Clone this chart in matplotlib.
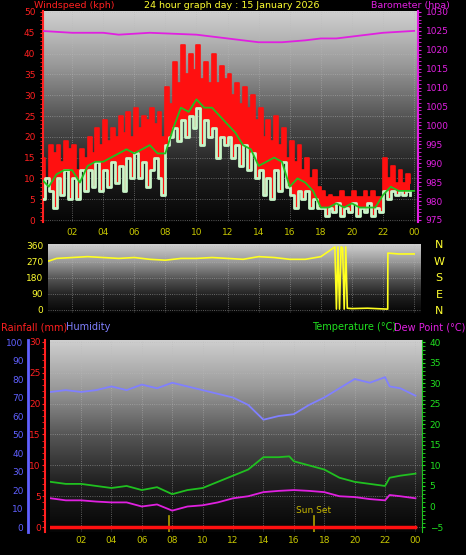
import numpy as np
import matplotlib
matplotlib.use("Agg")
import matplotlib.pyplot as plt
from matplotlib.colors import LinearSegmentedColormap

W, H = 466, 555
fig = plt.figure(figsize=(W/100, H/100), dpi=100, facecolor="black")

def rect(l, r, t, b):
    return [l/W, 1-b/H, (r-l)/W, (b-t)/H]

# ---------------- data ----------------
t15 = np.arange(96) * 0.25
gust = [15,10,18,16, 18,14,19,17, 18,12,17,15, 20,16,22,18, 24,19,22,20, 25,21,26,20,
        27,22,25,24, 27,23,26,20, 32,28,38,33, 42,35,40,36, 42,34,38,33, 40,33,37,34,
        35,30,33,28, 32,27,30,24, 27,20,24,19, 25,18,22,15, 19,14,18,12, 15,10,12,8,
        7,5.5,6,5.5, 5.5,7,5.5,5.5, 7,5.5,5.5,7, 5.5,7,5.5,5.5, 15,10,13,9, 12,9,11,9]
avg = [5,10,7,3, 10,6,12,5, 10,5,12,7, 12,8,14,7, 12,8,14,9, 13,7,15,10,
       16,10,14,8, 12,15,10,6, 18,20,22,19, 24,20,25,22, 27,18,24,20, 22,15,20,18,
       20,15,18,13, 18,12,16,10, 12,6,10,5, 12,7,14,8, 6,3,7,5, 7,3,5,3,
       3,1,3,2, 4,1,3,2, 4,1,3,2, 4,1,3,2, 7,5,7,6, 7,6,7,6]
t30 = np.arange(49) * 0.5
mean_wind = [10,8,11,12,12,9,13,14,14,15,16,17,16,17,18,16,16,22,27,26,29,27,27,25,23,21,
             18,17,13,14,15,14,8,10,9,7,3,3,4,3,4,3,3,3,6,8,7,7,7]
baro_t = [0,2,4,5,7,10,11,12,13,14,15.5,17,18,19,20,21,22,24]
baro = [1025,1024.5,1024.5,1024,1024.5,1024,1023.5,1023,1022.5,1022,1022,1022.5,1023,1023,1023.5,1024,1024.5,1025]

dir_t = [0,0.5,1,2,3,4,5,6,7,8,9,10,11,12,13,14,15,16,17,18,18.5,18.9,19.0,19.1,19.2,19.3,19.4,19.5,19.6,19.7,
         20,21,22,22.3,22.31,23,24]
wdir = [290,275,290,295,300,295,290,295,285,280,290,290,295,290,285,300,295,285,285,300,330,355,5,355,5,355,350,5,355,10,
        8,10,6,5,320,315,315]

hum_t = [0,1,2,3,4,5,6,7,8,9,10,11,12,13,14,15,16,17,18,19,20,21,22,22.3,23,24]
hum = [73,74,73,74,76,74,77,75,78,76,74,72,70,66,58,60,61,66,70,75,80,78,81,76,75,71]
temp_t = [0,1,2,3,4,5,6,7,8,9,10,11,12,13,14,15,15.7,16,17,18,19,20,21,22,22.3,23,24]
temp = [6,5.5,5.5,5,4.5,5,4,4.7,3,4,4.5,6,7.5,9,12,12,12.2,11,10,9,7,6,5.5,5,7,7.5,8]
dew_t = [0,1,2,3,4,5,6,7,8,9,10,11,12,13,14,15,16,17,18,19,20,21,22,22.3,23,24]
dew = [2,1.5,1.5,1.2,1,1,0,0.5,-1,0,0.3,1,2,2.5,3.5,3.8,4,3.8,3.5,2.5,2.3,1.8,1.5,2.8,2.5,2]
rain_t = [0, 24]
rain = [0, 0]
sunrise, sunset = 7.8, 17.3

hours = [2,4,6,8,10,12,14,16,18,20,22,24]
hour_labels = ["02","04","06","08","10","12","14","16","18","20","22","00"]

grad = np.linspace(0, 1, 256).reshape(-1, 1)
cmap = LinearSegmentedColormap.from_list("g", ["#050505", "#202020", "#555555", "#9a9a9a", "#d0d0d0"])

def style(ax):
    ax.set_facecolor("black")
    ax.imshow(grad, aspect="auto", cmap=cmap, origin="lower", extent=[0, 1, 0, 1],
              transform=ax.transAxes, zorder=0)
    ax.grid(True, color="#bbbbbb", linestyle=":", linewidth=0.6, alpha=0.6)
    for s in ax.spines.values():
        s.set_visible(False)
    ax.tick_params(labelsize=6.5, length=2)

FS = 6.5
# ---------------- top panel ----------------
ax1 = fig.add_axes(rect(43, 418, 11, 222))
style(ax1)
ax1.set_xlim(0.13, 24.25)
ax1.set_ylim(-0.48, 50.24)
ax1.fill_between(t15, avg, gust, step="post", color="#ff1010", lw=0, zorder=3)
ax1.step(t15, gust, where="post", color="#ff1010", lw=1.2, zorder=3)
ax1.step(t15, avg, where="post", color="#c8f5c8", lw=2.0, zorder=4)
ax1.plot(t30, mean_wind, color="#20c020", lw=1.3, zorder=5)
ax1.set_yticks(range(0, 51, 5))
ax1.set_yticks(np.arange(0, 50, 1), minor=True)
ax1.tick_params(axis="y", colors="#ff2020", labelcolor="#ff2020", which="both", length=2)
ax1.set_xticks(hours)
ax1.set_xticklabels(hour_labels)
ax1.tick_params(axis="x", colors="#c8c800", labelcolor="#c8c800", length=0, pad=4)
ax1.spines["left"].set_visible(True); ax1.spines["left"].set_color("#ff2020"); ax1.spines["left"].set_linewidth(1.5)
ax1b = ax1.twinx()
ax1b.set_ylim(974.47, 1030.26)
ax1b.plot(baro_t, baro, color="#e020e0", lw=1.3)
ax1b.set_yticks(range(975, 1031, 5))
ax1b.set_yticks(np.arange(975, 1030, 1), minor=True)
ax1b.tick_params(axis="y", colors="#e020e0", labelcolor="#e020e0", which="both", labelsize=FS, length=2)
for s in ax1b.spines.values():
    s.set_visible(False)
ax1b.spines["right"].set_visible(True); ax1b.spines["right"].set_color("#e020e0"); ax1b.spines["right"].set_linewidth(1.5)

fig.text(34/W, 1-5/H, "Windspeed (kph)", color="#ff2020", fontsize=6.8, va="center")
fig.text(232/W, 1-5/H, "24 hour graph day : 15 January 2026", color="#ffff30", fontsize=6.8, va="center", ha="center")
fig.text(371/W, 1-5/H, "Barometer (hpa)", color="#e020e0", fontsize=6.8, va="center")

# ---------------- middle panel ----------------
ax2 = fig.add_axes(rect(48, 421, 244, 313))
style(ax2)
ax2.set_xlim(0.45, 24.44)
ax2.set_ylim(-16.9, 371)
ax2.plot(dir_t, wdir, color="#ffff20", lw=1.2, zorder=3)
ax2.set_yticks([0, 90, 180, 270, 360])
ax2.tick_params(axis="y", colors="#ffff30", labelcolor="#ffff30", length=0, labelsize=FS)
ax2.set_xticks(hours)
ax2.tick_params(axis="x", length=0, labelbottom=False)
for i, c in enumerate("NWSEN"):
    fig.text(439/W, 1-(245+16.5*i)/H, c, color="#ffff30", fontsize=8, ha="center", va="center")

# ---------------- bottom panel ----------------
fig.text(1/W, 1-327/H, "Rainfall (mm)", color="#ff2020", fontsize=7, va="center")
fig.text(66/W, 1-327/H, "Humidity", color="#8080ff", fontsize=7, va="center")
fig.text(312/W, 1-327/H, "Temperature (°C)", color="#20e020", fontsize=7, va="center")
fig.text(394/W, 1-327/H, "Dew Point (°C)", color="#e020e0", fontsize=7, va="center")

ax3 = fig.add_axes(rect(50, 422, 340, 532))
style(ax3)
ax3.set_xlim(-0.04, 24.43)
ax3.set_ylim(-0.81, 30.32)
ax3.plot(rain_t, rain, color="#ff1010", lw=2.5, zorder=6)
ax3.set_yticks(range(0, 31, 5))
ax3.set_yticks(np.arange(0, 30, 1), minor=True)
ax3.tick_params(axis="y", colors="#ff2020", labelcolor="#ff2020", which="both", length=2, labelsize=FS, pad=1)
ax3.spines["left"].set_visible(True); ax3.spines["left"].set_color("#ff2020")
ax3.spines["left"].set_linewidth(1.5); ax3.spines["left"].set_position(("outward", 3.6))
ax3.set_xticks(hours)
ax3.set_xticklabels(hour_labels)
ax3.tick_params(axis="x", colors="#c8c800", labelcolor="#c8c800", length=0, pad=3)
for x in (sunrise, sunset):
    ax3.plot([x, x], [-0.81, 1.8], color="#b0a000", lw=1.2, zorder=5)
ax3.text(sunset, 2.0, "Sun Set", color="#c8b800", fontsize=6.5, ha="center", va="bottom")

ax3h = ax3.twinx()
ax3h.yaxis.tick_left(); ax3h.yaxis.set_label_position("left")
ax3h.set_ylim(-2.7, 101.1)
ax3h.plot(hum_t, hum, color="#8080ff", lw=1.3)
ax3h.set_yticks(range(0, 101, 10))
ax3h.tick_params(axis="y", colors="#8080ff", labelcolor="#6060ff", length=0, labelsize=FS, pad=3)
for s in ax3h.spines.values():
    s.set_visible(False)
ax3h.spines["left"].set_visible(True); ax3h.spines["left"].set_color("#6060ff")
ax3h.spines["left"].set_linewidth(2); ax3h.spines["left"].set_position(("outward", 16))

ax3t = ax3.twinx()
ax3t.set_ylim(-6.2, 40.5)
ax3t.plot(temp_t, temp, color="#20c020", lw=1.3)
ax3t.plot(dew_t, dew, color="#e020e0", lw=1.3)
ax3t.set_yticks(range(-5, 41, 5))
ax3t.set_yticks(np.arange(-5, 40, 1), minor=True)
ax3t.tick_params(axis="y", colors="#20e020", labelcolor="#20e020", which="both", length=2, labelsize=FS)
for s in ax3t.spines.values():
    s.set_visible(False)
ax3t.spines["right"].set_visible(True); ax3t.spines["right"].set_color("#20c020")

fig.savefig("out.png", dpi=100, facecolor="black")
